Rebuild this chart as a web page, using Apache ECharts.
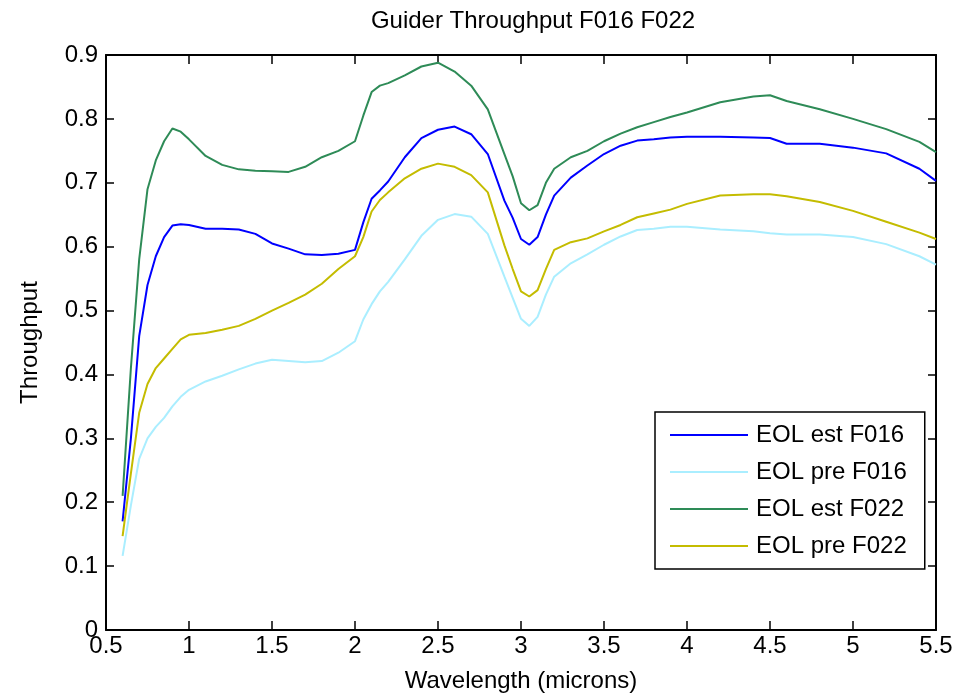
<!DOCTYPE html>
<html>
<head>
<meta charset="utf-8">
<script src="https://cdn.jsdelivr.net/npm/echarts@6/dist/echarts.min.js"></script>
<style>
  html, body { margin: 0; padding: 0; background: #fff; }
  #chart { width: 963px; height: 698px; }
</style>
</head>
<body>
<div id="chart"></div>
<script>
// wavelength grid (microns)
const wavelength = [0.6, 0.65, 0.7, 0.75, 0.8, 0.85, 0.9, 0.95, 1.0, 1.1, 1.2, 1.3, 1.4, 1.5, 1.6, 1.7, 1.8, 1.9, 2.0, 2.05, 2.1, 2.15, 2.2, 2.3, 2.4, 2.5, 2.6, 2.7, 2.8, 2.9, 2.95, 3.0, 3.05, 3.1, 3.15, 3.2, 3.3, 3.4, 3.5, 3.6, 3.7, 3.8, 3.9, 4.0, 4.2, 4.4, 4.5, 4.6, 4.8, 5.0, 5.2, 5.4, 5.5]

const estF016 = [0.17, 0.30, 0.46, 0.54, 0.585, 0.615, 0.633, 0.635, 0.634, 0.628, 0.628, 0.627, 0.62, 0.605, 0.597, 0.588, 0.587, 0.589, 0.595, 0.638, 0.675, 0.688, 0.702, 0.74, 0.77, 0.783, 0.788, 0.776, 0.745, 0.672, 0.645, 0.612, 0.603, 0.615, 0.65, 0.68, 0.708, 0.727, 0.745, 0.758, 0.766, 0.768, 0.771, 0.772, 0.772, 0.771, 0.77, 0.761, 0.761, 0.755, 0.746, 0.722, 0.703]

const preF016 = [0.116, 0.195, 0.268, 0.30, 0.318, 0.332, 0.35, 0.365, 0.376, 0.389, 0.398, 0.408, 0.417, 0.423, 0.421, 0.419, 0.421, 0.434, 0.452, 0.486, 0.51, 0.53, 0.545, 0.58, 0.617, 0.642, 0.651, 0.647, 0.62, 0.553, 0.52, 0.487, 0.476, 0.49, 0.525, 0.553, 0.574, 0.588, 0.603, 0.616, 0.626, 0.628, 0.631, 0.631, 0.627, 0.624, 0.621, 0.619, 0.619, 0.615, 0.604, 0.585, 0.572]

const estF022 = [0.21, 0.41, 0.58, 0.69, 0.735, 0.765, 0.785, 0.78, 0.768, 0.742, 0.728, 0.721, 0.719, 0.718, 0.717, 0.725, 0.74, 0.75, 0.765, 0.805, 0.842, 0.852, 0.856, 0.868, 0.882, 0.888, 0.874, 0.852, 0.815, 0.745, 0.71, 0.668, 0.657, 0.665, 0.70, 0.722, 0.74, 0.75, 0.765, 0.777, 0.787, 0.795, 0.803, 0.81, 0.826, 0.835, 0.837, 0.828, 0.815, 0.80, 0.784, 0.764, 0.748]

const preF022 = [0.147, 0.245, 0.34, 0.385, 0.41, 0.425, 0.44, 0.455, 0.462, 0.465, 0.47, 0.476, 0.487, 0.50, 0.512, 0.525, 0.542, 0.565, 0.585, 0.615, 0.655, 0.673, 0.685, 0.707, 0.722, 0.73, 0.725, 0.712, 0.685, 0.602, 0.565, 0.53, 0.522, 0.532, 0.565, 0.595, 0.607, 0.613, 0.624, 0.634, 0.646, 0.652, 0.658, 0.667, 0.68, 0.682, 0.682, 0.679, 0.67, 0.656, 0.639, 0.622, 0.612]

const seriesNames = ['EOL est F016', 'EOL pre F016', 'EOL est F022', 'EOL pre F022']
const seriesColors = ['#0000ff', '#aaeeff', '#2e8b57', '#c4bc00']
const seriesValues = [estF016, preF016, estF022, preF022]

const FONT = 'Liberation Sans'

const chart = echarts.init(document.getElementById('chart'))

const frameAxis = {
    type: 'value',
    axisLine: { show: true, onZero: false, lineStyle: { color: '#000', width: 2 } },
    axisTick: { show: true, inside: true, lineStyle: { color: '#000', width: 1.5 } },
    splitLine: { show: false }
}

const option = {
    animation: false,
    backgroundColor: '#fff',
    title: {
        text: 'Guider Throughput F016 F022',
        left: 528,
        top: 4,
        textAlign: 'center',
        textStyle: { fontFamily: FONT, fontSize: 24, fontWeight: 'normal', color: '#000' }
    },
    grid: { left: 106, right: 27, top: 55, bottom: 66 },
    legend: {
        data: seriesNames,
        orient: 'vertical',
        left: 655,
        top: 412,
        icon: 'rect',
        itemWidth: 78,
        itemHeight: 2,
        itemGap: 13,
        padding: [11, 18, 11, 15],
        borderColor: '#000',
        borderWidth: 1.5,
        backgroundColor: '#fff',
        textStyle: { fontFamily: FONT, fontSize: 24, lineHeight: 24, color: '#000', padding: [0, 0, 0, 3] }
    },
    xAxis: [
        Object.assign({}, frameAxis, {
            min: 0.5, max: 5.5, interval: 0.5,
            axisTick: Object.assign({}, frameAxis.axisTick, { length: 9 }),
            axisLabel: { margin: 4, fontFamily: FONT, fontSize: 24, color: '#000' },
            name: 'Wavelength (microns)',
            nameLocation: 'middle',
            nameGap: 39,
            nameTextStyle: { fontFamily: FONT, fontSize: 24, color: '#000' }
        }),
        Object.assign({}, frameAxis, {
            position: 'top',
            min: 0.5, max: 5.5, interval: 0.5,
            axisTick: Object.assign({}, frameAxis.axisTick, { length: 9 }),
            axisLabel: { show: false }
        })
    ],
    yAxis: [
        Object.assign({}, frameAxis, {
            min: 0, max: 0.9, interval: 0.1,
            axisTick: Object.assign({}, frameAxis.axisTick, { length: 8 }),
            axisLabel: { margin: 8, fontFamily: FONT, fontSize: 24, color: '#000' },
            name: 'Throughput',
            nameLocation: 'middle',
            nameGap: 64,
            nameTextStyle: { fontFamily: FONT, fontSize: 24, color: '#000' }
        }),
        Object.assign({}, frameAxis, {
            position: 'right',
            min: 0, max: 0.9, interval: 0.1,
            axisTick: Object.assign({}, frameAxis.axisTick, { length: 8 }),
            axisLabel: { show: false }
        })
    ],
    series: seriesNames.map((name, i) => ({
        name: name,
        type: 'line',
        xAxisIndex: 0,
        yAxisIndex: 0,
        symbol: 'none',
        showSymbol: false,
        smooth: false,
        color: seriesColors[i],
        lineStyle: { width: 2, color: seriesColors[i] },
        data: wavelength.map((w, j) => [w, seriesValues[i][j]])
    }))
}

chart.setOption(option)
</script>
</body>
</html>
